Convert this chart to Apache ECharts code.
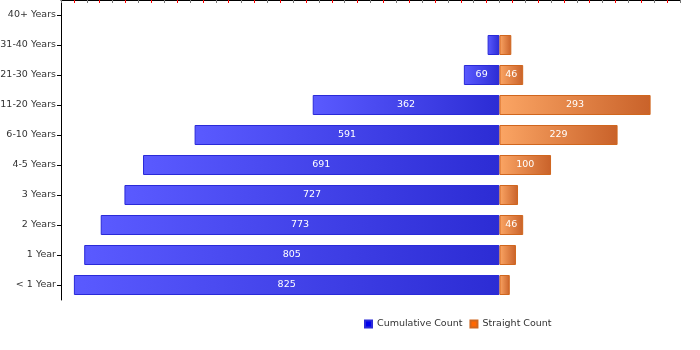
<!DOCTYPE html>
<html>
<head>
<meta charset="utf-8">
<script src="https://cdn.jsdelivr.net/npm/echarts@6/dist/echarts.min.js"></script>
<style>
  html, body { margin: 0; padding: 0; background: #fff; }
  #chart { width: 700px; height: 350px; }
</style>
</head>
<body>
<div id="chart"></div>
<script>
// categories, bottom to top
var categories = ['< 1 Year', '1 Year', '2 Years', '3 Years', '4-5 Years',
                  '6-10 Years', '11-20 Years', '21-30 Years', '31-40 Years', '40+ Years'];
var cumulativeCount = [825, 805, 773, 727, 691, 591, 362, 69, 23, 0];
var straightCount = [20, 32, 46, 36, 100, 229, 293, 46, 23, 0];

var myChart = echarts.init(document.getElementById('chart'));

function grad(c1, c2) {
    return new echarts.graphic.LinearGradient(0, 0, 1, 0, [
        {offset: 0, color: c1},
        {offset: 1, color: c2}
    ]);
}

var labelStyle = {
    show: true,
    position: 'inside',
    color: '#fff',
    fontFamily: 'DejaVu Sans',
    fontSize: 9.5,
    formatter: function (p) {
        var v = Math.abs(p.value);
        return v >= 40 ? String(v) : '';
    }
};

var option = {
    animation: false,
    grid: {left: 61, right: 20, top: 0, bottom: 50, outerBoundsMode: 'none'},
    legend: {
        left: 359,
        top: 314,
        itemWidth: 7,
        itemHeight: 7,
        itemGap: 7,
        icon: 'rect',
        textStyle: {fontFamily: 'DejaVu Sans', fontSize: 9.5, color: '#333'},
        data: [
            {name: 'Cumulative Count', itemStyle: {color: '#0000ee'}},
            {name: 'Straight Count', itemStyle: {color: '#ff6600'}}
        ]
    },
    xAxis: {
        type: 'value',
        position: 'top',
        min: -850,
        max: 350,
        interval: 50,
        axisLine: {show: true, lineStyle: {color: '#000'}},
        axisTick: {show: true, inside: true, length: 3, lineStyle: {color: '#777'}},
        minorTick: {show: true, splitNumber: 2, length: 3, lineStyle: {color: '#ff0000'}},
        axisLabel: {show: false},
        splitLine: {show: false}
    },
    yAxis: {
        type: 'category',
        data: categories,
        axisLine: {show: true, onZero: false, lineStyle: {color: '#000'}},
        axisTick: {show: true, alignWithLabel: true, length: 4, lineStyle: {color: '#000'}},
        axisLabel: {fontFamily: 'DejaVu Sans', fontSize: 9.5, color: '#333', margin: 5}
    },
    series: [
        {
            name: 'Cumulative Count',
            type: 'bar',
            barWidth: 20,
            barGap: '-100%',
            data: cumulativeCount.map(function (v) { return v ? -v : '-'; }),
            itemStyle: {
                color: grad('#5a5aff', '#2c2cd4'),
                borderColor: '#2a2ad8',
                borderWidth: 1
            },
            label: labelStyle
        },
        {
            name: 'Straight Count',
            type: 'bar',
            barWidth: 20,
            barGap: '-100%',
            data: straightCount.map(function (v) { return v ? v : '-'; }),
            itemStyle: {
                color: grad('#fba564', '#c9622a'),
                borderColor: '#d0661e',
                borderWidth: 1
            },
            label: labelStyle
        }
    ]
};

myChart.setOption(option);
</script>
</body>
</html>
